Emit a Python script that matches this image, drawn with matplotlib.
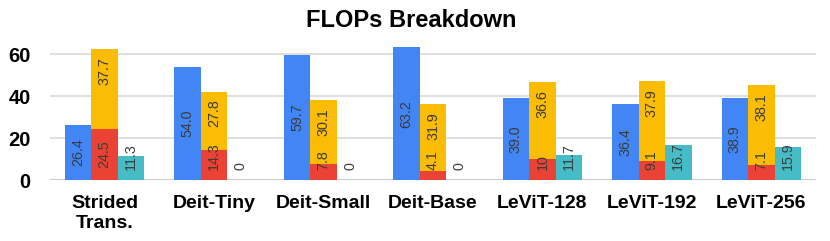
import matplotlib
matplotlib.use("Agg")
import matplotlib.pyplot as plt
import numpy as np

plt.rcParams['font.family'] = ['Liberation Sans', 'DejaVu Sans']

categories = ["Strided\nTrans.", "Deit-Tiny", "Deit-Small", "Deit-Base",
              "LeViT-128", "LeViT-192", "LeViT-256"]
blue_vals = [26.4, 54.0, 59.7, 63.2, 39.0, 36.4, 38.9]
red_vals = [24.5, 14.3, 7.8, 4.1, 10, 9.1, 7.1]
yellow_vals = [37.7, 27.8, 30.1, 31.9, 36.6, 37.9, 38.1]
teal_vals = [11.3, 0, 0, 0, 11.7, 16.7, 15.9]
yticks = [0, 20, 40, 60]

C_BLUE = "#4285F4"
C_RED = "#EA4335"
C_YELLOW = "#FBBC04"
C_TEAL = "#46BDC6"
LBL = "#3c3c3c"

fig = plt.figure(figsize=(8.3, 2.41), dpi=100)
ax = fig.add_axes([50/830, 1-180/241, (816-50)/830, (180-41.4)/241])

x = np.arange(len(categories))
w = 0.242
blue = np.array(blue_vals)
red = np.array(red_vals)
yel = np.array(yellow_vals)
teal = np.array(teal_vals)

ax.bar(x - w, blue, w, color=C_BLUE, zorder=2)
ax.bar(x, red, w, color=C_RED, zorder=2)
ax.bar(x, yel, w, bottom=red, color=C_YELLOW, zorder=2)
ax.bar(x + w, teal, w, color=C_TEAL, zorder=2)

ax.set_xlim(-0.5, len(categories) - 0.5)
ax.set_ylim(0, 66)
ax.set_yticks(yticks)
ax.set_yticklabels([str(t) for t in yticks], fontsize=14.5, fontweight='bold')
ax.set_xticks(x)
ax.set_xticklabels(categories, fontsize=14, fontweight='bold', linespacing=1.22)
ax.tick_params(axis='both', length=0)
ax.tick_params(axis='y', pad=14)
ax.tick_params(axis='x', pad=11)
for s in ax.spines.values():
    s.set_visible(False)
ax.yaxis.grid(True, color="#d9d9d9", linewidth=1.2, zorder=0)
ax.axhline(0, color="#cccccc", linewidth=1.5, zorder=1)
ax.set_axisbelow(True)

fig.text(411/830, 1-27/241, "FLOPs Breakdown", ha='center', va='baseline',
         fontsize=17, fontweight='bold')

FS = 10.3
centered = []
for i in range(len(x)):
    centered.append(ax.annotate(f"{blue[i]:.1f}", xy=(x[i] - w, blue[i] / 2),
                                xytext=(0, 0), textcoords='offset pixels',
                                rotation=90, ha='center', va='center',
                                fontsize=FS, color=LBL, zorder=3))
    centered.append(ax.annotate(f"{red[i]:g}", xy=(x[i], red[i] / 2),
                                xytext=(0, 0), textcoords='offset pixels',
                                rotation=90, ha='center', va='center',
                                fontsize=FS, color=LBL, zorder=3))
    centered.append(ax.annotate(f"{teal[i]:g}", xy=(x[i] + w, teal[i] / 2),
                                xytext=(0, 0), textcoords='offset pixels',
                                rotation=90, ha='center', va='center',
                                fontsize=FS, color=LBL, zorder=3))
    ax.annotate(f"{yel[i]:g}", xy=(x[i], red[i] + yel[i]),
                xytext=(0, -8), textcoords='offset pixels',
                rotation=90, ha='center', va='top',
                fontsize=FS, color=LBL, zorder=3)

fig.canvas.draw()
base_px = ax.transData.transform((0, 0))[1]
r = fig.canvas.get_renderer()
for t in centered:
    ext = t.get_window_extent(r)
    if ext.y0 < base_px + 10:
        t.xyann = (0, base_px + 10 - ext.y0)

fig.savefig("out.png", dpi=100)
